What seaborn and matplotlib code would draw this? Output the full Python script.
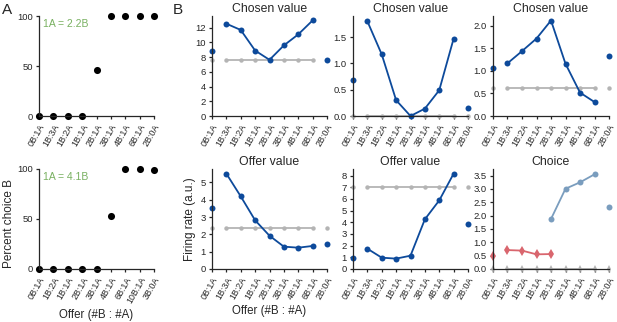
import seaborn as sns
import matplotlib.pyplot as plt
import numpy as np

sns.set_style("ticks")
plt.rcParams["font.family"] = ["Liberation Sans", "DejaVu Sans"]
plt.rcParams["axes.linewidth"] = 0.9
plt.rcParams["xtick.major.width"] = 0.9
plt.rcParams["ytick.major.width"] = 0.9
plt.rcParams["xtick.major.size"] = 2.5
plt.rcParams["ytick.major.size"] = 2.5

# ---- datos ----
offers = ["0B:1A", "1B:3A", "1B:2A", "1B:1A", "2B:1A", "3B:1A", "4B:1A", "6B:1A", "2B:0A"]
offers_a2 = ["0B:1A", "1B:2A", "1B:1A", "2B:1A", "3B:1A", "4B:1A", "6B:1A", "10B:1A", "3B:0A"]

pct_b_top = [0, 0, 0, 0, 46, 100, 100, 100, 100]
pct_b_bottom = [0, 0, 0, 0, 0, 53, 100, 100, 99.5]

chosen_1 = [8.9, 12.55, 11.7, 8.9, 7.64, 9.6, 11.1, 13.0, 7.55]
chosen_1_ctrl = [7.65, 7.65, 7.65, 7.65, 7.65, 7.65, 7.65, 7.65, 7.65]
chosen_2 = [0.68, 1.80, 1.17, 0.30, 0.0, 0.14, 0.49, 1.47, 0.15]
chosen_2_ctrl = [0.0, 0.0, 0.0, 0.0, 0.0, 0.0, 0.0, 0.0, 0.0]
chosen_3 = [1.06, 1.17, 1.44, 1.72, 2.12, 1.16, 0.52, 0.31, 1.33]
chosen_3_ctrl = [0.62, 0.62, 0.62, 0.62, 0.62, 0.62, 0.62, 0.62, 0.62]

offer_1 = [3.54, 5.5, 4.19, 2.81, 1.92, 1.29, 1.23, 1.33, 1.46]
offer_1_ctrl = [2.38, 2.38, 2.38, 2.38, 2.38, 2.38, 2.38, 2.38, 2.38]
offer_2 = [0.97, 1.74, 0.97, 0.89, 1.14, 4.26, 5.88, 8.17, 3.83]
offer_2_ctrl = [7.05, 7.05, 7.05, 7.05, 7.05, 7.05, 7.05, 7.05, 7.05]

choice_a = [0.48, 0.71, 0.69, 0.55, 0.56]          # 0B:1A .. 2B:1A
choice_b = [1.875, 3.01, 3.25, 3.55, 2.34]         # 2B:1A .. 2B:0A
choice_ctrl = [0.0, 0.0, 0.0, 0.0, 0.0, 0.0, 0.0, 0.0, 0.0]

BLUE = "#0d4a9b"
GRAY = "#b4b4b4"
RED = "#d9666e"
STEEL = "#7a9dbe"
GREEN = "#78b060"

fig = plt.figure(figsize=(6.17, 3.22), dpi=100)


def add_ax(left, top, w=115, h=100):
    return fig.add_axes([left / 617, 1 - (top + h) / 322, w / 617, h / 322])


def line(ax, x, y, color, marker="o", ms=4.3, lw=1.3):
    sns.lineplot(x=x, y=y, ax=ax, color=color, marker=marker, markersize=ms,
                 markeredgewidth=0, linewidth=lw, errorbar=None, clip_on=False)


def pts(ax, x, y, color, marker="o", ms=4.3):
    ax.plot(x, y, linestyle="none", color=color, marker=marker, markersize=ms,
            markeredgewidth=0, clip_on=False)


def style(ax, labels, yticks, ylim):
    ax.set_xlim(0, len(labels) - 1)
    ax.set_xticks(np.arange(len(labels)))
    ax.set_xticklabels(labels, rotation=60, ha="right", rotation_mode="anchor",
                       fontsize=6.4)
    ax.set_yticks(yticks)
    ax.set_ylim(*ylim)
    ax.tick_params(axis="y", labelsize=6.8, pad=2)
    ax.tick_params(axis="x", pad=2)
    sns.despine(ax=ax)


def value_panel(ax, vals, ctrl, title, yticks, ylim):
    x = np.arange(len(vals))
    line(ax, x[1:-1], ctrl[1:-1], GRAY, ms=3.2, lw=1.3)
    pts(ax, x[[0, -1]], [ctrl[0], ctrl[-1]], GRAY, ms=3.2)
    line(ax, x[1:-1], vals[1:-1], BLUE)
    pts(ax, x[[0, -1]], [vals[0], vals[-1]], BLUE)
    style(ax, offers, yticks, ylim)
    ax.set_title(title, fontsize=8.8, pad=3)


# ---- Panel A ----
axA1 = add_ax(39, 16)
axA2 = add_ax(39, 169)
for ax, labels, vals, txt in [(axA1, offers, pct_b_top, "1A = 2.2B"),
                              (axA2, offers_a2, pct_b_bottom, "1A = 4.1B")]:
    sns.scatterplot(x=np.arange(len(vals)), y=vals, ax=ax, color="black", s=26,
                    linewidth=0, clip_on=False)
    style(ax, labels, [0, 50, 100], (0, 100))
    ax.text(0.3, 92, txt, color=GREEN, fontsize=7.5, va="center")
axA2.set_ylabel("Percent choice B", fontsize=8.5)
axA2.yaxis.set_label_coords(-0.21, 0.45)
axA2.set_xlabel("Offer (#B : #A)", fontsize=8.3, labelpad=3)

# ---- Panel B ----
ax1 = add_ax(212, 16)
ax2 = add_ax(353, 16)
ax3 = add_ax(493, 16, w=116)
ax4 = add_ax(212, 169)
ax5 = add_ax(353, 169)
ax6 = add_ax(493, 169, w=116)

value_panel(ax1, chosen_1, chosen_1_ctrl, "Chosen value", np.arange(0, 13, 2), (0, 13.6))
value_panel(ax2, chosen_2, chosen_2_ctrl, "Chosen value", [0, 0.5, 1.0, 1.5], (0, 1.9))
value_panel(ax3, chosen_3, chosen_3_ctrl, "Chosen value", [0, 0.5, 1.0, 1.5, 2.0], (0, 2.22))
value_panel(ax4, offer_1, offer_1_ctrl, "Offer value", np.arange(0, 6), (0, 5.77))
value_panel(ax5, offer_2, offer_2_ctrl, "Offer value", np.arange(0, 9), (0, 8.57))

# Choice panel
x = np.arange(len(offers))
line(ax6, x[1:-1], choice_ctrl[1:-1], GRAY, marker="d", ms=3.6)
pts(ax6, x[[0, -1]], [choice_ctrl[0], choice_ctrl[-1]], GRAY, marker="d", ms=3.6)
line(ax6, x[1:5], choice_a[1:], RED, marker="d", ms=5.2)
pts(ax6, [x[0]], [choice_a[0]], RED, marker="d", ms=5.2)
line(ax6, x[4:8], choice_b[:-1], STEEL)
pts(ax6, [x[8]], [choice_b[-1]], STEEL)
style(ax6, offers, [0, 0.5, 1.0, 1.5, 2.0, 2.5, 3.0, 3.5], (0, 3.75))
ax6.set_title("Choice", fontsize=8.8, pad=3)

ax4.set_ylabel("Firing rate (a.u.)", fontsize=8.5, labelpad=3)
ax4.set_xlabel("Offer (#B : #A)", fontsize=8.3, labelpad=3)

fig.text(2 / 617, 1 - 3 / 322, "A", fontsize=11, va="top")
fig.text(173 / 617, 1 - 3 / 322, "B", fontsize=11, va="top")

fig.savefig("out.png", dpi=100)
